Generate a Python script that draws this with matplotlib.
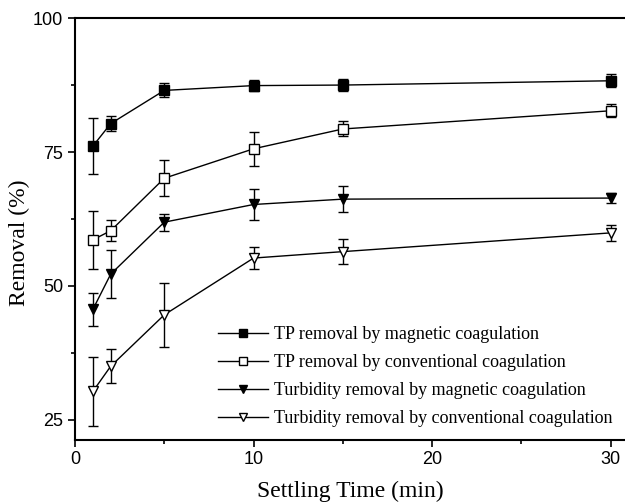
import matplotlib.pyplot as plt
from matplotlib.lines import Line2D

# settling time (min)
time_min = [1, 2, 5, 10, 15, 30]

# removal (%) and standard deviation for each series
tp_mag = [76.1, 80.3, 86.5, 87.4, 87.5, 88.3]
tp_mag_err = [5.2, 1.4, 1.3, 1.0, 1.1, 1.2]

tp_conv = [58.6, 60.3, 70.1, 75.6, 79.3, 82.7]
tp_conv_err = [5.4, 2.0, 3.4, 3.2, 1.4, 1.2]

turb_mag = [45.6, 52.2, 61.9, 65.2, 66.2, 66.4]
turb_mag_err = [3.0, 4.5, 1.6, 2.9, 2.4, 1.0]

turb_conv = [30.3, 35.0, 44.6, 55.2, 56.4, 59.9]
turb_conv_err = [6.5, 3.2, 6.0, 2.0, 2.3, 1.5]

labels = ["TP removal by magnetic coagulation",
          "TP removal by conventional coagulation",
          "Turbidity removal by magnetic coagulation",
          "Turbidity removal by conventional coagulation"]

fig = plt.figure(figsize=(6.25, 5.03), dpi=100)
ax = fig.add_axes([0.12, 0.126, 0.88, 0.838])

series = [
    (tp_mag, tp_mag_err, "s", "black"),
    (tp_conv, tp_conv_err, "s", "white"),
    (turb_mag, turb_mag_err, "v", "black"),
    (turb_conv, turb_conv_err, "v", "white"),
]

handles = []
for vals, err, mk, face in series:
    ax.errorbar(time_min, vals, yerr=err, color="black", lw=1.0,
                marker=mk, markersize=7, markerfacecolor=face,
                markeredgecolor="black", markeredgewidth=1.0,
                ecolor="black", elinewidth=1.0, capsize=3.5, capthick=1.0)
    if face == "white":
        # small dot in the middle of the open symbols
        ax.plot(time_min, vals, ls="none", marker=".", markersize=1.5,
                color="black")
    handles.append(Line2D([], [], color="black", lw=1.0, marker=mk,
                          markersize=5.5, markerfacecolor=face,
                          markeredgecolor="black", markeredgewidth=1.0))

ax.set_xlim(0, 30.8)
ax.set_ylim(21.3, 100)
ax.set_xticks([0, 10, 20, 30])
ax.set_xticks([5, 15, 25], minor=True)
ax.set_yticks([25, 50, 75, 100])
ax.set_yticks([37.5, 62.5, 87.5], minor=True)

for s in ["left", "bottom", "top"]:
    ax.spines[s].set_linewidth(1.5)
ax.spines["right"].set_visible(False)

ax.tick_params(which="both", direction="out", width=1.2, top=False, right=False)
ax.tick_params(which="major", length=5, labelsize=13)
ax.tick_params(which="minor", length=3)
for t in ax.get_xticklabels() + ax.get_yticklabels():
    t.set_fontfamily("Liberation Sans")

ax.set_xlabel("Settling Time (min)", fontfamily="Liberation Serif", fontsize=17,
              labelpad=9)
ax.set_ylabel("Removal (%)", fontfamily="Liberation Serif", fontsize=17)
ax.yaxis.set_label_coords(-0.082, 0.467)

ax.legend(handles, labels, loc="lower right", frameon=False,
          prop={"family": "Liberation Serif", "size": 13},
          handlelength=2.8, handletextpad=0.3, labelspacing=0.6,
          borderaxespad=0.3, bbox_to_anchor=(1.0, 0.0))

fig.savefig("out.png", dpi=100)
